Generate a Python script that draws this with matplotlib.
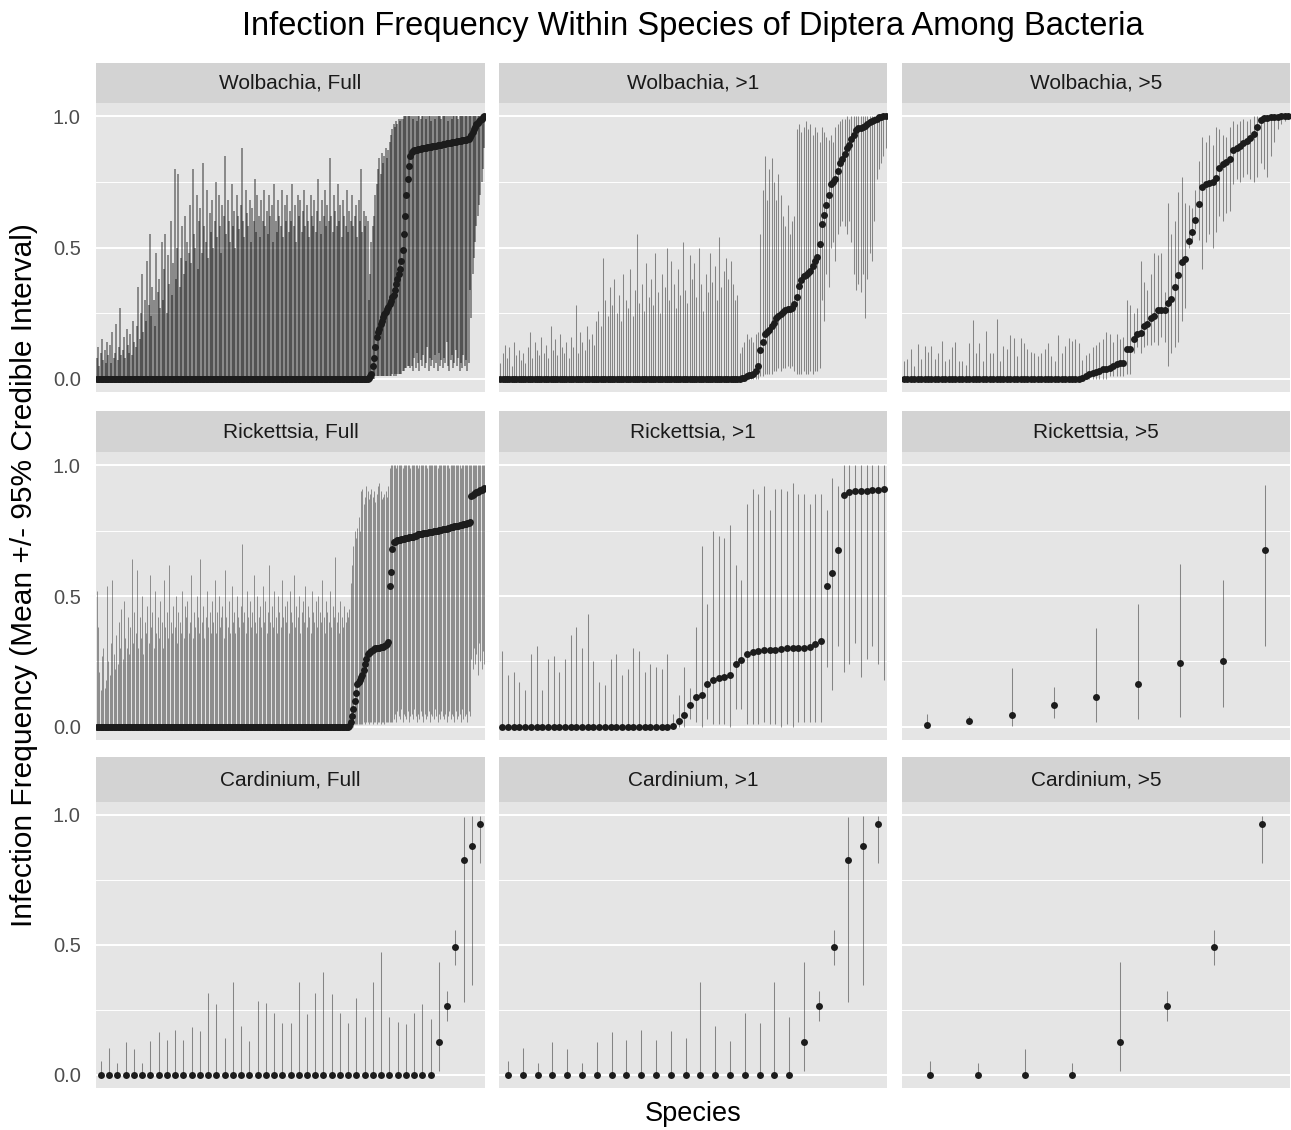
import numpy as np
import matplotlib
matplotlib.use('Agg')
import matplotlib.pyplot as plt

plt.rcParams['font.family'] = ['Liberation Sans', 'DejaVu Sans']

# all values in percent; species with a mean of zero only carry an upper bound
# ---------------- Wolbachia, Full ----------------
wf_zero_hi = [8, 12, 5, 10, 15, 7, 11, 6, 14, 9,
              13, 6, 18, 8, 10, 21, 7, 12, 27, 9,
              11, 16, 8, 19, 13, 10, 17, 9, 22, 14,
              12, 20, 35, 15, 25, 40, 18, 30, 22, 45,
              28, 55, 24, 35, 30, 20, 48, 33, 38, 27,
              52, 30, 42, 55, 25, 47, 36, 60, 32, 44,
              80, 38, 50, 78, 35, 46, 58, 40, 62, 45,
              52, 48, 66, 44, 80, 55, 50, 70, 42, 60,
              65, 48, 82, 58, 52, 72, 46, 63, 56, 68,
              50, 60, 75, 54, 70, 58, 48, 66, 62, 85,
              55, 68, 60, 52, 74, 58, 64, 50, 70, 62,
              57, 66, 88, 60, 54, 72, 63, 58, 68, 52,
              65, 60, 76, 56, 70, 62, 54, 68, 60, 72,
              58, 64, 55, 70, 62, 66, 52, 74, 60, 56,
              68, 62, 58, 72, 54, 66, 60, 70, 56, 64,
              60, 74, 58, 66, 52, 70, 62, 68, 56, 64,
              72, 58, 66, 60, 54, 70, 62, 58, 68, 56,
              64, 76, 60, 55, 68, 62, 72, 58, 66, 60,
              84, 62, 56, 70, 64, 58, 74, 60, 66, 54,
              68, 62, 58, 72, 56, 64, 60, 70, 58, 62,
              66, 54, 68, 60, 80, 56, 64, 58, 62, 60]
wf_mean = [0.5, 1, 2, 5, 8, 12, 16, 18, 19, 21, 22, 23.5, 24.5, 25.5, 26.5, 27.5, 28.5,
           29.5, 31, 32, 34, 36, 38, 40, 42, 45, 49, 55, 62, 70, 76, 81, 85,
           86.5, 86.8, 87, 87.2, 87.3, 87.4, 87.5, 87.6, 87.7, 87.8, 87.9, 88, 88.1, 88.2, 88.3,
           88.4, 88.5, 88.6, 88.7, 88.8, 88.9, 89, 89.1, 89.2, 89.3, 89.4, 89.5, 89.6, 89.7,
           89.8, 89.9, 90, 90.1, 90.2, 90.3, 90.4, 90.5, 90.6, 90.7, 90.8, 90.9, 91, 91.1,
           91.2, 91.4,
           92, 93, 94, 95, 96, 97, 97.5, 98, 98.5, 99, 99.5, 100]
wf_lo = [0, 0, 0, 0, 0, 1, 1, 1, 1, 1, 1, 1, 1, 1, 1, 1, 1, 1, 2, 1, 2, 1, 2, 2, 2, 2, 3,
         3, 4, 4, 5, 5, 4,
         5, 3, 8, 4, 10, 6, 3, 7, 5, 9, 4, 6, 12, 3, 8, 5, 7, 4, 9, 6, 3, 10, 5, 7, 4, 8,
         6, 14, 5, 3, 7, 9, 4, 6, 11, 5, 8, 3, 6, 4, 9, 5, 7, 3, 6,
         34, 23, 40, 46, 52, 58, 62, 66, 70, 75, 80, 88]
wf_hi = [30, 40, 52, 58, 62, 70, 74, 80, 84, 78, 86, 82, 85, 88, 84, 87, 90, 93, 95, 97,
         96, 98, 97, 99, 98, 99, 99, 100, 100, 100, 100, 100, 100,
         100, 99, 100, 100, 98, 100, 100, 99, 100, 100, 100, 99, 100, 100, 100, 98, 100, 100,
         99, 100, 100, 100, 100, 99, 100, 100, 100, 100, 98, 100, 100, 99, 100, 100, 100,
         100, 99, 100, 100, 100, 100, 100, 100, 100, 100,
         100, 100, 100, 100, 100, 100, 100, 100, 100, 100, 100, 100]

# ---------------- Wolbachia, >1 ----------------
w1_zero_hi = [6, 10, 13, 8, 12, 5, 14, 9, 11, 7,
              10, 6, 12, 18, 8, 14, 11, 9, 16, 10,
              13, 8, 20, 11, 15, 9, 17, 12, 10, 14,
              8, 16, 12, 28, 10, 18, 14, 11, 20, 15,
              17, 13, 22, 26, 20, 46, 30, 24, 35, 28,
              38, 25, 32, 22, 40, 30, 27, 42, 24, 34,
              55, 29, 36, 26, 44, 31, 38, 28, 48, 33,
              25, 40, 35, 50, 30, 45, 36, 27, 42, 32,
              52, 34, 29, 47, 38, 44, 31, 50, 36, 26,
              40, 33, 48, 37, 43, 30, 54, 35, 41, 46,
              38, 45, 36, 30, 32]
w1_mean = [0, 0.3, 0.5, 1, 1.3, 1.6, 2, 3, 5, 11, 14, 17, 17.8, 18.5, 20, 21.3, 23, 24,
           24.8, 25.5, 26.2, 26.5, 26.7, 27, 28.5, 31, 35.5, 37.8, 39, 39.5, 40.2, 41.2,
           43, 45, 46.2, 51.5, 59, 62.3, 66.2, 70, 74.2, 74.8, 76, 79, 82, 83.5, 85.5,
           87.8, 89.2, 91.3, 92.9, 94.6, 95.3, 95.6, 95.9, 96.4, 97, 97.6, 98.2, 98.6,
           99, 99.5, 99.7, 99.9, 100]
w1_lo = [0, 0, 0, 0, 0, 0, 0, 0, 0,
         1, 1, 2, 2, 2,
         2, 3, 3, 4, 3, 4, 4, 5, 4, 5,
         3, 2, 2, 2, 3, 2, 2, 3, 2, 3, 3, 4,
         30, 22, 40, 35, 50, 52, 45, 55, 58, 60,
         58, 55, 60, 52, 40,
         34, 36, 33, 40, 23, 38, 48, 45, 60,
         76, 80, 82, 85, 88]
w1_hi = [10, 12, 14, 17, 15, 16, 14, 17, 18,
         55, 72, 85, 68, 80,
         84, 75, 68, 78, 70, 62, 58, 66, 55, 60,
         62, 95, 97, 94, 96, 98, 95, 97, 93, 96, 94, 90,
         96, 94, 92, 91, 93, 90, 96, 97, 98, 99,
         99, 100, 99, 100, 100,
         100, 100, 100, 100, 100, 100, 100, 100, 100,
         100, 100, 100, 100, 100]

# ---------------- Wolbachia, >5 ----------------
w5_zero_hi = [6.8, 7.4, 11.5, 4.8, 13.1, 7.7, 12.5, 10.2, 12.5, 7.4,
              9.9, 14.4, 6.8, 7.7, 12.2, 14.0, 6.8, 6.8, 5.1, 13.8,
              22.3, 9.7, 13.8, 6.8, 18.2, 9.9, 9.9, 22.7, 6.8, 12.5,
              11.2, 16.6, 15.7, 8.7, 15.7, 13.8, 11.2, 10.2, 9.9, 8.7,
              9.9, 11.2, 13.8, 8.7, 6.8, 16.6, 9.9, 12.5, 15.7, 14.4,
              15.1, 13.8]
w5_mean = [0.4, 1.0, 1.7, 2.3, 2.7, 3.0, 3.6, 3.8, 4.2, 4.8,
           5.5, 5.9, 6.1, 11.2, 11.2, 15.0, 17.0, 17.6, 20.0, 21.0,
           23.3, 24.0, 26.3, 26.3, 26.3, 29.0, 30.4, 34.8, 39.5, 44.6,
           45.7, 52.3, 55.9, 60.3, 66.7, 73.1, 74.0, 74.4, 75.0, 76.5,
           80.1, 81.6, 82.4, 83.7, 87.1, 88.0, 88.8, 89.7, 90.6, 91.8,
           93.1, 96.0, 98.6, 99.2, 99.2, 99.5, 99.6, 99.7, 99.9, 100, 100]
w5_lo = [0, 0, 0, 0, 0, 0, 0, 0, 1, 1,
         1, 1, 1, 2, 2, 10, 12, 10, 12, 13,
         13, 14, 13, 16, 14, 5, 10, 12, 14, 22,
         27, 50, 53, 57, 53, 42, 52, 55, 50, 56,
         62, 60, 63, 64, 74, 76, 75, 77, 78, 76,
         75, 77, 82, 80, 77, 85, 90, 95, 97, 98, 99]
w5_hi = [7, 9, 10, 12, 13, 14, 15, 18, 17, 14,
         17, 15, 16, 30, 28, 25, 27, 45, 37, 34,
         40, 48, 47, 48, 33, 67, 55, 60, 71, 77,
         67, 66, 65, 72, 83, 92, 90, 93, 89, 96,
         95, 93, 92, 96, 98, 97, 98, 99, 98, 99,
         100, 100, 100, 100, 100, 100, 100, 100, 100, 100, 100]

# ---------------- Rickettsia, Full ----------------
rf_zero_hi = [52, 38, 21, 14, 27, 30, 15, 18, 54, 25,
              20, 32, 56, 28, 22, 35, 24, 40, 30, 45,
              26, 48, 34, 30, 42, 28, 38, 64, 32, 44,
              36, 60, 30, 42, 34, 50, 28, 40, 36, 46,
              32, 58, 38, 44, 30, 52, 36, 42, 34, 48,
              40, 30, 56, 38, 44, 34, 62, 40, 36, 46,
              38, 50, 32, 44, 40, 36, 52, 34, 46, 42,
              48, 36, 40, 58, 34, 44, 38, 50, 42, 36,
              64, 40, 46, 34, 42, 52, 38, 44, 36, 48,
              40, 56, 36, 44, 50, 38, 42, 46, 34, 60,
              42, 38, 48, 36, 54, 40, 44, 36, 50, 42,
              38, 46, 70, 40, 44, 36, 52, 42, 48, 38,
              44, 58, 40, 36, 50, 42, 46, 38, 54, 40,
              48, 36, 44, 62, 40, 46, 38, 52, 42, 36,
              50, 44, 38, 56, 42, 46, 40, 48, 36, 52,
              44, 40, 58, 38, 46, 42, 50, 36, 44, 48,
              40, 54, 38, 46, 42, 36, 52, 44, 40, 48,
              38, 50, 44, 40, 56, 42, 36, 48, 44, 40,
              52, 38, 46, 42, 65, 40, 44, 36, 48, 42,
              38, 46, 40, 44, 42]
rf_mean = [0.5, 2, 4, 7, 10, 13, 16.5, 17.2, 17.8, 19, 20, 21.6, 24, 26, 28, 28.4, 28.7,
           29, 29.3, 29.6, 30, 30.1, 30.2, 30.3, 30.4, 30.5, 30.7, 30.9, 31.2, 31.6, 32.5,
           54, 59, 68,
           70.5, 70.8, 71, 71.2, 71.4, 71.5, 71.6, 71.8, 71.9, 72,
           72.1, 72.2, 72.4, 72.5, 72.6, 72.7, 72.9, 73.1, 73.3, 73.5,
           73.6, 73.7, 73.8, 73.9, 74, 74.1, 74.2, 74.3, 74.4, 74.5,
           74.6, 74.7, 74.8, 74.9, 75, 75.1, 75.2, 75.3, 75.4, 75.5,
           75.6, 75.7, 75.9, 76, 76.2, 76.3, 76.5, 76.6, 76.7, 76.8,
           76.9, 77, 77.1, 77.2, 77.4, 77.5, 77.6, 77.8, 78, 78.2,
           88.2, 88.7, 89, 89.3, 89.6, 89.8, 90, 90.3, 90.6, 90.9, 91.2]
rf_lo = [0, 0, 0, 0, 1, 1, 1, 1, 1, 1, 1, 2, 1, 2, 2, 1, 2, 2, 1, 2, 2, 1, 2, 2, 1, 2, 2,
         1, 2, 2, 2,
         2, 2, 2,
         3, 5, 2, 6, 4, 3, 7, 2, 5, 4, 3, 6, 2, 4, 5, 3, 7, 4, 2, 5, 3, 6, 4, 2, 5, 3, 4,
         6, 2, 5, 4, 3, 7, 4, 2, 5, 3, 6, 4, 3, 5, 2, 4, 6, 3, 5, 4, 2, 6, 3, 4, 5, 2, 7,
         3, 4, 5, 2, 6, 4,
         26, 22, 30, 24, 28, 20, 32, 25, 22, 29, 24]
rf_hi = [45, 55, 62, 69, 75, 72, 76, 80, 75, 90, 91, 85, 88, 92, 90, 87, 89, 91, 88, 90,
         86, 89, 92, 93, 90, 87, 88, 89, 90, 88, 92,
         99, 100, 100,
         100, 100, 99, 100, 100, 100, 100, 99, 100, 100, 100, 100, 100, 99, 100, 100,
         100, 100, 100, 99, 100, 100, 100, 100, 100, 100, 99, 100, 100, 100, 100, 100,
         100, 100, 99, 100, 100, 100, 100, 100, 100, 100, 100, 99, 100, 100, 100, 100,
         100, 100, 100, 100, 99, 100, 100, 100, 100, 100, 100, 100,
         100, 100, 100, 100, 100, 100, 100, 100, 100, 100, 100]

# ---------------- Rickettsia, >1 ----------------
r1_zero_hi = [29, 20, 21, 17, 14, 28, 31, 14, 26, 27, 21, 26, 35, 38, 30,
              43, 25, 17, 16, 26, 28, 20, 22, 30, 29, 21, 24, 23, 22, 28]
r1_mean = [0.5, 2.2, 4.7, 8.2, 11.5, 12, 16.2, 18, 18.7, 19, 19.8, 24.2, 25.6, 27.7, 28.5,
           28.9, 29.2, 29.4, 29.5, 29.9, 30, 30, 30, 30.2, 30.7, 31.6, 33, 54, 58.7, 67.6,
           88.5, 89.8, 90, 90, 90, 90.3, 90.3, 90.8]
r1_lo = [0, 0, 0, 3, 2, 0, 3, 1, 1, 1, 0, 7, 7, 1, 1, 1, 2, 1, 1, 0, 1, 0, 2, 2, 2, 2, 2,
         23, 14, 31, 21, 24, 32, 19, 26, 31, 24, 18]
r1_hi = [5, 12, 23, 15, 38, 69, 47, 75, 73, 72, 77, 62, 56, 85, 91, 89, 92, 83, 91, 91,
         90, 93, 89, 89, 85, 89, 89, 83, 95, 92, 100, 100, 100, 100, 100, 100, 100, 100]

# ---------------- Rickettsia, >5 ----------------
r5_mean = [0.6, 2.2, 4.6, 8.2, 11.4, 16.4, 24.3, 25.2, 67.6]
r5_lo = [0, 1.8, 0.3, 3.5, 1.8, 3.1, 3.7, 7.7, 30.8]
r5_hi = [5.1, 4.3, 22.6, 15.3, 37.9, 46.8, 62.1, 56.1, 92.3]

# ---------------- Cardinium ----------------
cf_zero_hi = [5.5, 10.3, 4.6, 12.6, 10.0, 4.6, 12.9, 16.6, 13.5, 17.4,
              13.4, 18.6, 17.1, 31.7, 27.2, 14.2, 35.9, 18.9, 12.9, 28.5,
              27.7, 24.0, 20.0, 20.0, 35.8, 23.6, 31.7, 39.7, 31.0, 23.8,
              20.0, 29.8, 22.4, 35.8, 47.4, 22.5, 20.4, 19.5, 24.0, 27.5, 21.5]
c1_zero_hi = [5.2, 10.2, 4.5, 12.6, 10.0, 4.6, 12.8, 16.6, 13.5, 17.2,
              13.3, 17.0, 14.2, 35.8, 18.9, 12.9, 23.8, 20.0, 35.8, 22.4]
c_top_mean = [12.8, 26.6, 49.2, 82.8, 87.9, 96.5]
c_top_lo = [1.7, 20.8, 42.5, 28.2, 34.5, 81.5]
c_top_hi = [43.4, 32.3, 55.7, 99.4, 99.7, 99.7]

c5_mean = [0, 0, 0, 0, 12.8, 26.6, 49.2, 96.5]
c5_lo = [0, 0, 0, 0, 1.4, 20.8, 42.5, 81.5]
c5_hi = [5.2, 4.5, 10.0, 4.5, 43.4, 32.3, 55.7, 99.7]

bacteria = ['Wolbachia', 'Rickettsia', 'Cardinium']
subsets = ['Full', '>1', '>5']


def build(zero_hi, mean, lo, hi):
    m = [0.0] * len(zero_hi) + list(mean)
    l = [0.0] * len(zero_hi) + list(lo)
    h = list(zero_hi) + list(hi)
    return np.array(m) / 100, np.array(l) / 100, np.array(h) / 100


panels = [
    build(wf_zero_hi, wf_mean, wf_lo, wf_hi),
    build(w1_zero_hi, w1_mean, w1_lo, w1_hi),
    build(w5_zero_hi, w5_mean, w5_lo, w5_hi),
    build(rf_zero_hi, rf_mean, rf_lo, rf_hi),
    build(r1_zero_hi, r1_mean, r1_lo, r1_hi),
    build([], r5_mean, r5_lo, r5_hi),
    build(cf_zero_hi, c_top_mean, c_top_lo, c_top_hi),
    build(c1_zero_hi, c_top_mean, c_top_lo, c_top_hi),
    build([], c5_mean, c5_lo, c5_hi),
]
# error-bar line widths per panel (the Wolbachia "Full" panel prints much darker)
bar_lw = [1.35, 0.75, 0.75,
          0.65, 0.75, 0.75,
          0.75, 0.75, 0.75]

W, H = 1291, 1130
fig = plt.figure(figsize=(W / 100, H / 100), dpi=100)
fig.patch.set_facecolor('white')

cols = [(96, 485), (499, 887), (902, 1290)]
rows = [(63, 103, 392), (411, 452, 740), (757, 802, 1088)]

for r, (st, pt, pb) in enumerate(rows):
    for c, (x0, x1) in enumerate(cols):
        k = r * 3 + c
        mean, lo, hi = panels[k]
        n = len(mean)
        ax = fig.add_axes([x0 / W, 1 - pb / H, (x1 - x0) / W, (pb - pt) / H])
        ax.set_facecolor('#e5e5e5')
        for s in ax.spines.values():
            s.set_visible(False)
        for y in (0.25, 0.75):
            ax.axhline(y, color='white', lw=0.7, zorder=0.5)
        for y in (0, 0.5, 1.0):
            ax.axhline(y, color='white', lw=1.4, zorder=0.6)
        x = np.arange(1, n + 1)
        ax.vlines(x, lo, hi, color='black', alpha=0.42, lw=bar_lw[k], zorder=2)
        ax.plot(x, mean, 'o', ms=5, color='#1c1c1c', mew=0, zorder=3)
        ax.set_xlim(0.4, n + 0.6)
        ax.set_ylim(-0.05, 1.05)
        ax.set_xticks([])
        if c == 0:
            ax.set_yticks([0, 0.5, 1.0])
            ax.set_yticklabels(['0.0', '0.5', '1.0'])
            ax.tick_params(axis='y', length=0, labelcolor='#4d4d4d',
                           labelsize=14.5, pad=11)
        else:
            ax.set_yticks([])

        sax = fig.add_axes([x0 / W, 1 - pt / H, (x1 - x0) / W, (pt - st) / H])
        sax.set_facecolor('#d3d3d3')
        for s in sax.spines.values():
            s.set_visible(False)
        sax.set_xticks([])
        sax.set_yticks([])
        sax.text(0.5, 0.5, f'{bacteria[r]}, {subsets[c]}', ha='center', va='center',
                 fontsize=15, color='#1a1a1a', transform=sax.transAxes)

fig.text(693 / W, 1 - 26 / H, 'Infection Frequency Within Species of Diptera Among Bacteria',
         ha='center', va='center', fontsize=23.5, color='black')
fig.text(693 / W, 1 - 1114 / H, 'Species', ha='center', va='center', fontsize=19.5)
fig.text(24 / W, 1 - 575 / H, 'Infection Frequency (Mean +/- 95% Credible Interval)',
         ha='center', va='center', rotation=90, fontsize=21.5)

fig.savefig('out.png', dpi=100)
